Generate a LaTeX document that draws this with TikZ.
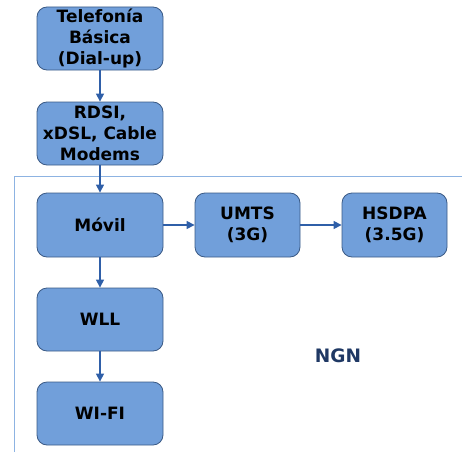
\documentclass[tikz,border=0pt]{standalone}
\usepackage{fontspec}
\setmainfont{DejaVu Sans}
\usetikzlibrary{arrows.meta}
\definecolor{boxfill}{HTML}{719FDA}
\definecolor{boxline}{HTML}{3A5A85}
\definecolor{arrowc}{HTML}{2F5FA8}
\definecolor{framec}{HTML}{8DB3E2}
\definecolor{ngnc}{HTML}{1F3864}
\begin{document}
\begin{tikzpicture}[x=1pt,y=-1pt,
  tbox/.style={draw=boxline, line width=0.8pt, fill=boxfill, rounded corners=10pt,
    align=center, font=\bfseries\fontsize{17}{21}\selectfont, inner sep=0pt},
  conn/.style={draw=arrowc, line width=1.2pt, -{Triangle[length=8pt,width=8pt]}}]
\useasboundingbox (0,0) rectangle (462,452);
\draw[framec, line width=1pt] (14,452) -- (14,176.5) -- (462,176.5);
\node[tbox, minimum width=126pt, minimum height=63pt] (tel) at (100,38.5) {Telefonía\\Básica\\(Dial-up)};
\node[tbox, minimum width=126pt, minimum height=63pt] (rdsi) at (100,133.5) {RDSI,\\xDSL, Cable\\Modems};
\node[tbox, minimum width=126pt, minimum height=64pt] (movil) at (100,225) {Móvil};
\node[tbox, minimum width=105pt, minimum height=64pt] (umts) at (247.5,225) {UMTS\\(3G)};
\node[tbox, minimum width=105pt, minimum height=64pt] (hsdpa) at (394.5,225) {HSDPA\\(3.5G)};
\node[tbox, minimum width=126pt, minimum height=63pt] (wll) at (100,319.5) {WLL};
\node[tbox, minimum width=126pt, minimum height=63pt] (wifi) at (100,413.5) {WI-FI};
\node[text=ngnc, font=\bfseries\fontsize{18.5}{20}\selectfont] (ngn) at (338,356) {NGN};
\draw[conn] (tel) -- (rdsi);
\draw[conn] (rdsi) -- (movil);
\draw[conn] (movil) -- (umts);
\draw[conn] (umts) -- (hsdpa);
\draw[conn] (movil) -- (wll);
\draw[conn] (wll) -- (wifi);
\end{tikzpicture}
\end{document}
